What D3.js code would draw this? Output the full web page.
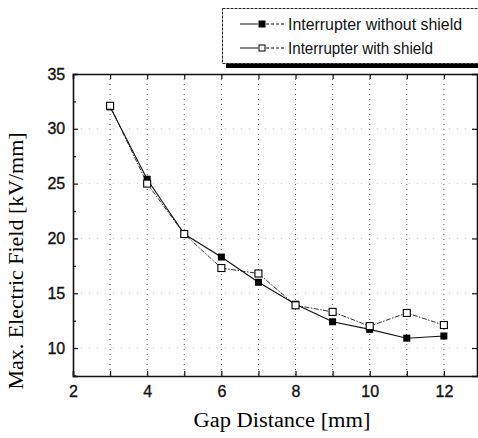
<!DOCTYPE html>
<html><head><meta charset="utf-8">
<script src="https://cdn.jsdelivr.net/npm/d3@7"></script>
<style>body{margin:0;background:#fff}</style>
</head><body>
<script>
const gaps = [3,4,5,6,7,8,9,10,11,12];
const withoutShield = [32.0,25.4,20.4,18.3,16.0,14.0,12.4,11.7,10.9,11.1];
const withShield = [32.1,25.0,20.4,17.3,16.8,13.9,13.3,12.0,13.2,12.1];
const xTicks = [2,4,6,8,10,12];
const yTicks = [10,15,20,25,30,35];
const seriesNames = ["Interrupter without shield","Interrupter with shield"];

const W=478,H=438;
const svg=d3.select("body").append("svg").attr("width",W).attr("height",H);
const x=d3.scaleLinear().domain([2,12.92]).range([73,478]);
const y=d3.scaleLinear().domain([7.45,35]).range([376,74]);
const tickFont="'Liberation Sans Narrow','Arial Narrow','Liberation Sans',sans-serif";
const serif="'Liberation Serif','Times New Roman',serif";

// grid
const grid=svg.append("g");
grid.selectAll("line.v").data(d3.range(3,13)).join("line")
 .attr("x1",d=>x(d)).attr("x2",d=>x(d)).attr("y1",y(35)).attr("y2",y(7.45))
 .attr("stroke","#555").attr("stroke-width",1).attr("stroke-dasharray","1,4");
grid.selectAll("line.h").data([10,15,20,25,30]).join("line")
 .attr("x1",x(2)).attr("x2",478).attr("y1",d=>y(d)).attr("y2",d=>y(d))
 .attr("stroke","#ccc").attr("stroke-width",1).attr("stroke-dasharray","1,7");

// axes
const gB=svg.append("g").attr("transform",`translate(0,${y(7.45)})`)
 .call(d3.axisBottom(x).tickValues(d3.range(2,13)).tickSize(-5).tickFormat(d=>xTicks.includes(d)?d:""));
const gT=svg.append("g").attr("transform",`translate(0,${y(35)})`)
 .call(d3.axisTop(x).tickValues(d3.range(2,13)).tickSize(-5).tickFormat(""));
const gL=svg.append("g").attr("transform",`translate(${x(2)},0)`)
 .call(d3.axisLeft(y).tickValues(yTicks).tickSize(-5).tickFormat(d=>d));
const gLm=svg.append("g").attr("transform",`translate(${x(2)},0)`)
 .call(d3.axisLeft(y).tickValues([7.5,12.5,17.5,22.5,27.5,32.5]).tickSize(-3).tickFormat(""));
const gR=svg.append("g").attr("transform",`translate(477,0)`)
 .call(d3.axisRight(y).tickValues(yTicks).tickSize(-5).tickFormat(""));
[gB,gT,gL,gLm,gR].forEach(g=>{
  g.select(".domain").attr("stroke","#111").attr("stroke-width",1.6);
  g.selectAll(".tick line").attr("stroke","#111").attr("stroke-width",1.2);
  g.selectAll("text").attr("font-family",tickFont).attr("font-size",16).attr("fill","#111")
   .attr("stroke","#111").attr("stroke-width",0.35);
});
gB.selectAll("text").attr("dy","1.1em");
gL.selectAll("text").attr("dx","-0.3em");
gLm.select(".domain").remove();

// lines
const line=(vals)=>d3.line().x((d,i)=>x(gaps[i])).y(d=>y(d))(vals);
svg.append("path").attr("d",line(withShield)).attr("fill","none")
 .attr("stroke","#333").attr("stroke-width",1).attr("stroke-dasharray","5,1.5,1.5,1.5");
svg.append("path").attr("d",line(withoutShield)).attr("fill","none")
 .attr("stroke","#111").attr("stroke-width",1.1);

svg.append("g").selectAll("rect").data(withoutShield).join("rect")
 .attr("x",(d,i)=>x(gaps[i])-3.5).attr("y",d=>y(d)-3.5).attr("width",7).attr("height",7).attr("fill","#000");
svg.append("g").selectAll("rect").data(withShield).join("rect")
 .attr("x",(d,i)=>x(gaps[i])-3.5).attr("y",d=>y(d)-3.5).attr("width",7).attr("height",7)
 .attr("fill","#fff").attr("stroke","#000").attr("stroke-width",1.1);

// titles
svg.append("text").attr("x",282).attr("y",427).attr("text-anchor","middle")
 .attr("font-family",serif).attr("font-size",20)
 .attr("textLength",177).attr("lengthAdjust","spacingAndGlyphs")
 .text("Gap Distance [mm]");
svg.append("text").attr("transform","translate(23,261) rotate(-90)").attr("text-anchor","middle")
 .attr("font-family",serif).attr("font-size",21)
 .attr("textLength",257).attr("lengthAdjust","spacingAndGlyphs")
 .text("Max. Electric Field [kV/mm]");

// legend
const lg=svg.append("g");
lg.append("rect").attr("x",226).attr("y",63).attr("width",260).attr("height",5).attr("fill","#000");
lg.append("rect").attr("x",222.5).attr("y",8.5).attr("width",260).attr("height",55)
 .attr("fill","#fff").attr("stroke","#222").attr("stroke-width",1).attr("stroke-dasharray","3,1");
seriesNames.forEach((n,i)=>{
  const yy=24+i*24;
  lg.append("line").attr("x1",240).attr("x2",258).attr("y1",yy).attr("y2",yy).attr("stroke","#111");
  lg.append("line").attr("x1",266).attr("x2",284).attr("y1",yy).attr("y2",yy).attr("stroke","#111").attr("stroke-dasharray","3,2");
  lg.append("rect").attr("x",259).attr("y",yy-3).attr("width",6).attr("height",6)
   .attr("fill",i==0?"#000":"#fff").attr("stroke","#000").attr("stroke-width",1);
  lg.append("text").attr("x",288).attr("y",yy+6).attr("font-family",tickFont).attr("font-size",16)
   .attr("textLength",i==0?174:145).attr("lengthAdjust","spacingAndGlyphs")
   .attr("fill","#111").text(n);
});
</script>
</body></html>
